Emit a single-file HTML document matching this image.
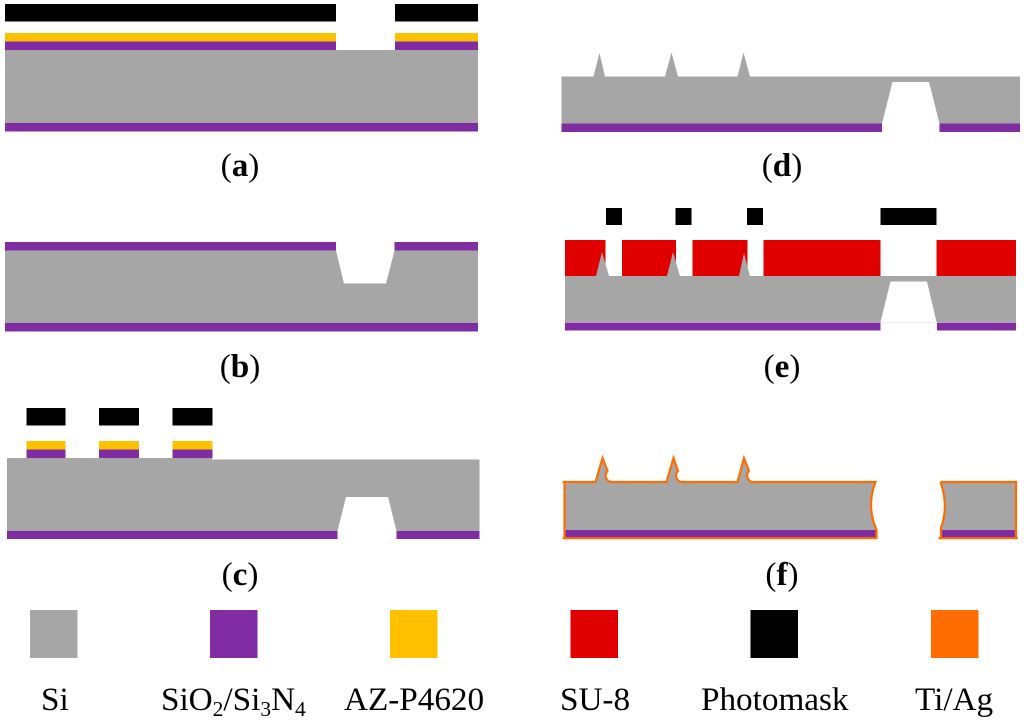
<!DOCTYPE html>
<html>
<head>
<meta charset="utf-8">
<style>
html,body{margin:0;padding:0;background:#fff;width:1024px;height:722px;overflow:hidden}
svg{display:block}
text{font-family:"Liberation Serif",serif;fill:#000}
.l{font-size:33.2px}
.c{font-size:33.2px;text-anchor:middle}
.c tspan.b{font-weight:bold}
.g{fill:#a6a6a6}.p{fill:#802ca2}.y{fill:#ffc000}.r{fill:#e00000}.k{fill:#000}.o{fill:#ff6d00}
</style>
</head>
<body>
<svg width="1024" height="722" viewBox="0 0 1024 722" xmlns="http://www.w3.org/2000/svg">
<!-- a -->
<rect class="k" x="5" y="4" width="331" height="17.5"/>
<rect class="k" x="395" y="4" width="83" height="17.5"/>
<rect class="y" x="5" y="33" width="331" height="8.5"/>
<rect class="y" x="395" y="33" width="83" height="8.5"/>
<rect class="p" x="5" y="41.5" width="331" height="8.5"/>
<rect class="p" x="395" y="41.5" width="83" height="8.5"/>
<rect class="g" x="5" y="50" width="473" height="73"/>
<rect class="p" x="5" y="123" width="473" height="8.5"/>
<text class="c" x="240" y="176">(<tspan class="b">a</tspan>)</text>
<!-- b -->
<rect class="p" x="5" y="242" width="331" height="8.5"/>
<rect class="p" x="394.5" y="242" width="83.5" height="8.5"/>
<path class="g" d="M5 250.5H336L344 283.5H386L394.5 250.5H478V323H5Z"/>
<rect class="p" x="5" y="323" width="473" height="8.5"/>
<text class="c" x="240" y="377">(<tspan class="b">b</tspan>)</text>
<!-- c -->
<rect class="k" x="26.5" y="408" width="39" height="17.5"/>
<rect class="k" x="99" y="408" width="40" height="17.5"/>
<rect class="k" x="172.5" y="408" width="40" height="17.5"/>
<rect class="y" x="26.5" y="441" width="39" height="8.5"/>
<rect class="y" x="99" y="441" width="40" height="8.5"/>
<rect class="y" x="172.5" y="441" width="40" height="8.5"/>
<rect class="p" x="26.5" y="449.5" width="39" height="8.5"/>
<rect class="p" x="99" y="449.5" width="40" height="8.5"/>
<rect class="p" x="172.5" y="449.5" width="40" height="8.5"/>
<path class="g" d="M7 458H212V459.5H479.5V531H396.5L388 497H346L337.5 531H7Z"/>
<rect class="p" x="7" y="531" width="330.5" height="8"/>
<rect class="p" x="396.5" y="531" width="83" height="8"/>
<text class="c" x="240" y="585">(<tspan class="b">c</tspan>)</text>
<!-- d -->
<path class="g" d="M561.5 76.5H593.5L599.5 53L605 76.5H665L671.5 52.5L678 76.5H737.5L743.5 52.5L750 76.5H1020V123.5H939.5L929 82H892.5L882 123.5H561.5Z"/>
<rect class="p" x="561.5" y="123.5" width="320.5" height="8.5"/>
<rect class="p" x="939.5" y="123.5" width="80.5" height="8.5"/>
<text class="c" x="782" y="176">(<tspan class="b">d</tspan>)</text>
<!-- e -->
<rect class="k" x="606" y="208" width="16" height="17"/>
<rect class="k" x="675.5" y="208" width="16" height="17"/>
<rect class="k" x="747" y="208" width="16" height="17"/>
<rect class="k" x="880.5" y="208" width="56" height="17"/>
<rect class="r" x="565" y="240" width="40.5" height="36"/>
<rect class="r" x="622" y="240" width="54" height="36"/>
<rect class="r" x="692.5" y="240" width="55" height="36"/>
<rect class="r" x="763.5" y="240" width="117" height="36"/>
<rect class="r" x="936.5" y="240" width="79.5" height="36"/>
<path class="g" d="M565 276H596L602 252L609 276H667L673 252L680 276H739L744 253L750 276H1016V322H936.5L927 281.5H890.5L880.5 322H565Z"/>
<rect x="880.5" y="322" width="56" height="1" fill="#eee"/>
<rect class="p" x="565" y="322.5" width="315.5" height="8"/>
<rect class="p" x="937" y="322.5" width="79" height="8"/>
<text class="c" x="782" y="377">(<tspan class="b">e</tspan>)</text>
<!-- f -->
<path class="g" d="M564.5 482H595.5L602.5 458L607.5 471A6.5 6.5 0 0 0 611 482H666.5L673.5 458L678 471A6.5 6.5 0 0 0 681.5 482H737.5L744 458L749 471A6.5 6.5 0 0 0 752.5 482H875.5Q866 506 876.5 530V537.5H564.5Z"/>
<rect class="p" x="565" y="530" width="311" height="7.5"/>
<path d="M562.5 482H595.5L602.5 458L607.5 471A6.5 6.5 0 0 0 611 482H666.5L673.5 458L678 471A6.5 6.5 0 0 0 681.5 482H737.5L744 458L749 471A6.5 6.5 0 0 0 752.5 482H875.5Q866 506 876.5 530V538.2H562.5M564.5 482V538" fill="none" stroke="#ff6d00" stroke-width="2.2"/>
<path class="g" d="M940.5 482H1016V537.5H941V528Q949 506 940.5 482Z"/>
<rect class="p" x="941" y="530" width="75" height="7.5"/>
<path d="M940.5 482H1017M1016 482V538M1018 538.2H938.5M941 538V528Q949 506 940.5 482" fill="none" stroke="#ff6d00" stroke-width="2.2"/>
<text class="c" x="782" y="585">(<tspan class="b">f</tspan>)</text>
<!-- legend -->
<rect class="g" x="30" y="610" width="47.5" height="48"/>
<rect class="p" x="210" y="610" width="47.5" height="48"/>
<rect class="y" x="390" y="610" width="47.5" height="48"/>
<rect class="r" x="570.5" y="610" width="47.5" height="48"/>
<rect class="k" x="750.5" y="610" width="47.5" height="48"/>
<rect class="o" x="931" y="610" width="47.5" height="48"/>
<text class="l" x="41" y="710">Si</text>
<text class="l" x="161" y="710">SiO<tspan font-size="21.5" dy="6">2</tspan><tspan dy="-6">/Si</tspan><tspan font-size="21.5" dy="6">3</tspan><tspan dy="-6">N</tspan><tspan font-size="21.5" dy="6">4</tspan></text>
<text class="l" x="344" y="710">AZ-P4620</text>
<text class="l" x="560" y="710">SU-8</text>
<text class="l" x="701" y="710">Photomask</text>
<text class="l" x="915" y="710">Ti/Ag</text>
</svg>
</body>
</html>
